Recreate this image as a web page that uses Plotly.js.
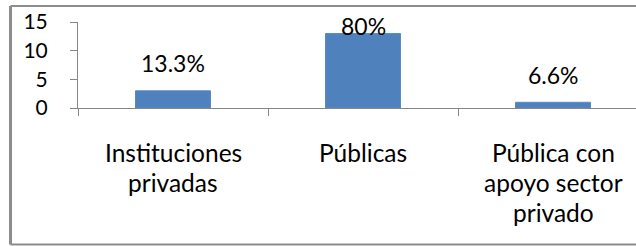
<!DOCTYPE html>
<html>
<head>
<meta charset="utf-8">
<script src="https://cdn.plot.ly/plotly-3.0.1.min.js"></script>
<style>html,body{margin:0;padding:0;overflow:hidden;background:#fff}</style>
</head>
<body>
<div id="chart" style="width:636px;height:246px"></div>
<script>
var categories = ["Instituciones<br>privadas", "Públicas", "Pública con<br>apoyo sector<br>privado"];
var values = [3, 13, 1];
var pctLabels = ["13.3%", "80%", "6.6%"];
var yTicks = [0, 5, 10, 15];

var FONT = "Lato, 'Liberation Sans', Arial, sans-serif";
var W = 636, H = 246;
var mL = 78, mT = 22, mB = 138, mR = 0;
var plotH = H - mT - mB;
var plotW = W - mL - mR;
var yMax = 15;
var catW = 190;
var xs = [0, 1, 2];

var annotations = [];
values.forEach(function (v, i) {
  var pxTop = mT + (yMax - v) * plotH / yMax;
  var center = Math.max(pxTop - 27.5, 26);
  annotations.push({
    x: xs[i], y: v, xref: 'x', yref: 'y',
    text: pctLabels[i], showarrow: false,
    yanchor: 'middle', xanchor: 'center',
    yshift: pxTop - center,
    font: {family: FONT, size: 23, color: '#000'}
  });
});
categories.forEach(function (c, i) {
  c.split('<br>').forEach(function (line, j) {
    annotations.push({
      x: xs[i], y: 0, xref: 'x', yref: 'paper',
      text: line, showarrow: false,
      yanchor: 'middle', xanchor: 'center',
      yshift: -(44 + 30.3 * j),
      font: {family: FONT, size: 24.5, color: '#000'}
    });
  });
});

function px2paperX(p) { return (p - mL) / plotW; }
function px2paperY(p) { return (H - mB - p) / plotH; }

var xl = px2paperX(10.5), xr = px2paperX(760);
var yt = px2paperY(6), yb = px2paperY(244.5);

var data = [{
  type: 'bar',
  x: xs,
  y: values,
  marker: {color: '#4f81bd', line: {color: '#5a8ac6', width: 1}},
  hoverinfo: 'none'
}];

var layout = {
  width: W, height: H,
  margin: {l: mL, r: mR, t: mT, b: mB, pad: 0},
  paper_bgcolor: '#fff', plot_bgcolor: '#fff',
  showlegend: false,
  bargap: 1 - 75 / catW,
  font: {family: FONT, color: '#000'},
  xaxis: {
    range: [-0.5, -0.5 + plotW / catW],
    showgrid: false, zeroline: false,
    showline: true, linecolor: '#868686', linewidth: 1,
    tickmode: 'array', tickvals: [-0.5, 0.5, 1.5],
    ticks: 'outside', ticklen: 7, tickcolor: '#868686', tickwidth: 1,
    showticklabels: false, fixedrange: true
  },
  yaxis: {
    range: [0, yMax],
    showgrid: false, zeroline: false,
    showline: true, linecolor: '#868686', linewidth: 1,
    tickmode: 'array', tickvals: yTicks, ticktext: yTicks.map(String),
    ticks: 'outside', ticklen: 7, tickcolor: '#868686', tickwidth: 1,
    ticklabelstandoff: 18,
    tickfont: {family: FONT, size: 21, color: '#000'},
    fixedrange: true
  },
  annotations: annotations,
  shapes: [
    {type: 'line', xref: 'paper', yref: 'paper', x0: xl, x1: xl, y0: yb, y1: yt, line: {color: '#8c8c8c', width: 3}},
    {type: 'line', xref: 'paper', yref: 'paper', x0: xl, x1: xr, y0: yt, y1: yt, line: {color: '#8c8c8c', width: 2}},
    {type: 'line', xref: 'paper', yref: 'paper', x0: xl, x1: xr, y0: yb, y1: yb, line: {color: '#8c8c8c', width: 2}}
  ]
};

Plotly.newPlot('chart', data, layout, {staticPlot: true, displayModeBar: false});
</script>
</body>
</html>
